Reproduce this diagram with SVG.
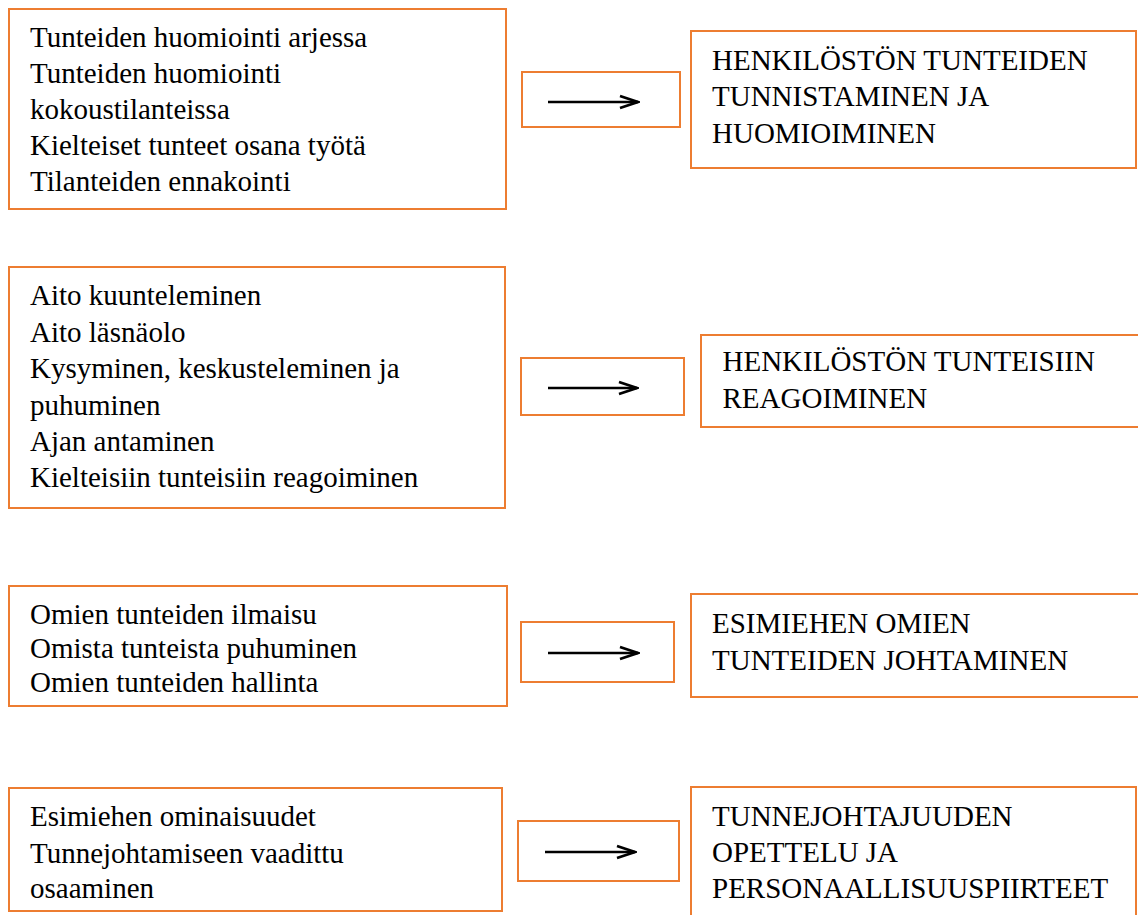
<svg xmlns="http://www.w3.org/2000/svg" width="1138" height="915" viewBox="0 0 1138 915">
  <style>
    .box { fill: #ffffff; stroke: #ED7D31; stroke-width: 2; }
    .t { font-family: "Liberation Serif", "Times New Roman", serif; font-size: 29px; fill: #000000; }
    .arr { stroke: #000000; stroke-width: 2.5; fill: none; marker-end: url(#head); }
  </style>
  <defs>
    <marker id="head" viewBox="0 0 22 16" refX="20" refY="8" markerWidth="22" markerHeight="16" markerUnits="userSpaceOnUse" orient="auto">
      <path d="M2,2 L20,8 L2,14" fill="none" stroke="#000000" stroke-width="2.8" stroke-linejoin="miter"/>
    </marker>
  </defs>
  <rect width="1138" height="915" fill="#ffffff"/>

  <g id="left1">
    <rect class="box" x="9" y="9" width="497" height="200"/>
    <text class="t" x="30" y="47">Tunteiden huomiointi arjessa</text>
    <text class="t" x="30" y="83">Tunteiden huomiointi</text>
    <text class="t" x="30" y="119">kokoustilanteissa</text>
    <text class="t" x="30" y="155">Kielteiset tunteet osana työtä</text>
    <text class="t" x="30" y="191">Tilanteiden ennakointi</text>
  </g>
  <g id="left2">
    <rect class="box" x="9" y="267" width="496" height="241"/>
    <text class="t" x="30" y="305">Aito kuunteleminen</text>
    <text class="t" x="30" y="341.5">Aito läsnäolo</text>
    <text class="t" x="30" y="378">Kysyminen, keskusteleminen ja</text>
    <text class="t" x="30" y="414.5">puhuminen</text>
    <text class="t" x="30" y="451">Ajan antaminen</text>
    <text class="t" x="30" y="487">Kielteisiin tunteisiin reagoiminen</text>
  </g>
  <g id="left3">
    <rect class="box" x="9" y="586" width="498" height="120"/>
    <text class="t" x="30" y="624">Omien tunteiden ilmaisu</text>
    <text class="t" x="30" y="658">Omista tunteista puhuminen</text>
    <text class="t" x="30" y="692">Omien tunteiden hallinta</text>
  </g>
  <g id="left4">
    <rect class="box" x="9" y="788" width="493" height="123"/>
    <text class="t" x="30" y="826">Esimiehen ominaisuudet</text>
    <text class="t" x="30" y="862.5">Tunnejohtamiseen vaadittu</text>
    <text class="t" x="30" y="898">osaaminen</text>
  </g>

  <g id="arrowbox1"><rect class="box" x="522" y="72" width="158" height="55"/></g>
  <g id="arrowbox2"><rect class="box" x="521" y="358" width="163" height="57"/></g>
  <g id="arrowbox3"><rect class="box" x="521" y="622" width="153" height="60"/></g>
  <g id="arrowbox4"><rect class="box" x="518" y="821" width="161" height="60"/></g>

  <g id="right1">
    <rect class="box" x="691" y="31" width="445" height="137"/>
    <text class="t" x="712" y="69.5">HENKILÖSTÖN TUNTEIDEN</text>
    <text class="t" x="712" y="106">TUNNISTAMINEN JA</text>
    <text class="t" x="712" y="142.5">HUOMIOIMINEN</text>
  </g>
  <g id="right2">
    <rect class="box" x="701" y="335" width="445" height="92"/>
    <text class="t" x="722.5" y="370.5">HENKILÖSTÖN TUNTEISIIN</text>
    <text class="t" x="722.5" y="408">REAGOIMINEN</text>
  </g>
  <g id="right3">
    <rect class="box" x="691" y="594" width="455" height="103"/>
    <text class="t" x="712" y="633">ESIMIEHEN OMIEN</text>
    <text class="t" x="712" y="670">TUNTEIDEN JOHTAMINEN</text>
  </g>
  <g id="right4">
    <rect class="box" x="691" y="787" width="445" height="140"/>
    <text class="t" x="712" y="826">TUNNEJOHTAJUUDEN</text>
    <text class="t" x="712" y="862">OPETTELU JA</text>
    <text class="t" x="712" y="898">PERSONAALLISUUSPIIRTEET</text>
  </g>

  <g id="connectors">
    <line class="arr" x1="548" y1="102" x2="638" y2="102"/>
    <line class="arr" x1="548" y1="388" x2="637" y2="388"/>
    <line class="arr" x1="548" y1="653" x2="638" y2="653"/>
    <line class="arr" x1="545" y1="852" x2="635" y2="852"/>
  </g>
</svg>
